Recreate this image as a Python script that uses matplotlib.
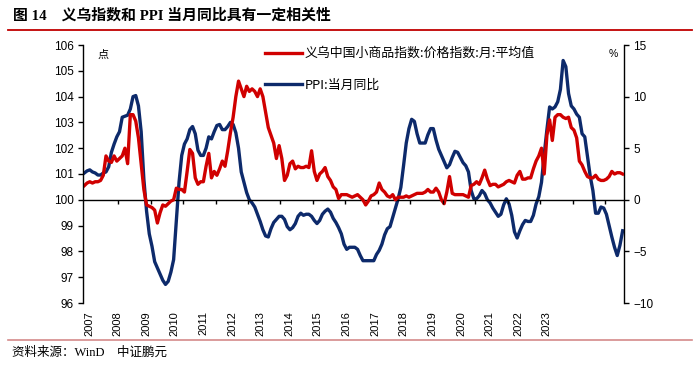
import numpy as np
import matplotlib.pyplot as plt
from matplotlib.lines import Line2D

plt.rcParams['font.family'] = ['Liberation Sans', 'Noto Sans CJK SC']

years = [str(y) for y in range(2007, 2024)]

# 义乌中国小商品指数:价格指数:月:平均值 (left axis), monthly 2007-01 .. 2023-08
yiwu = [
    100.55, 100.65, 100.7, 100.65, 100.7, 100.7, 100.75, 100.95, 101.7, 101.5, 101.45, 101.7,
    101.5, 101.6, 101.7, 102.0, 101.4, 103.3, 103.3, 103.05, 102.4, 101.4, 100.4, 99.8,
    99.75, 99.7, 99.6, 99.1, 99.5, 99.8, 99.75, 99.85, 99.95, 100.0, 100.45, 100.4,
    100.4, 100.3, 101.1, 101.95, 101.8, 100.85, 100.6, 100.7, 100.7, 101.3, 101.8, 100.85,
    101.1, 100.95, 101.2, 101.5, 101.3, 101.9, 102.6, 103.2, 104.0, 104.6, 104.3, 104.0,
    104.4, 104.2, 104.3, 104.2, 104.0, 104.3, 104.0, 103.4, 102.8, 102.5, 102.2, 101.6,
    102.1, 101.6, 100.75, 100.95, 101.4, 101.5, 101.2, 101.3, 101.25, 101.25, 101.3, 101.25,
    101.9, 101.1, 100.75, 101.0, 101.1, 101.25, 100.9, 100.75, 100.5, 100.4, 100.05, 100.2,
    100.2, 100.2, 100.15, 100.1, 100.15, 100.2, 100.1, 100.0, 99.8, 99.95, 100.15, 100.2,
    100.3, 100.65, 100.4, 100.3, 100.15, 100.1, 100.2, 100.0, 100.1, 100.1, 100.1, 100.15,
    100.1, 100.15, 100.2, 100.25, 100.25, 100.25, 100.3, 100.4, 100.3, 100.3, 100.45, 100.3,
    100.0, 99.85, 100.3, 100.9, 100.25, 100.2, 100.2, 100.2, 100.2, 100.15, 100.1, 100.55,
    100.6, 100.7, 100.6, 100.85, 101.15, 100.8, 100.55, 100.6, 100.6, 100.5, 100.55, 100.6,
    100.7, 100.75, 100.7, 100.65, 100.95, 101.1, 100.8, 100.8, 100.85, 100.85, 101.2, 101.5,
    101.7, 102.0, 101.0, 102.5, 103.1, 102.3, 103.2, 103.3, 103.3, 103.2, 103.15, 103.2,
    102.8, 102.7, 102.4, 101.5, 101.35, 101.1, 100.9, 100.85, 100.85, 100.95, 100.8, 100.75,
    100.75, 100.8, 100.9, 101.1, 101.0, 101.05, 101.05, 101.0,
]

# PPI:当月同比 (right axis, %)
ppi = [
    2.6, 2.8, 2.9, 2.7, 2.6, 2.4, 2.4, 2.6, 2.7, 3.2, 4.6, 5.4,
    6.1, 6.6, 8.0, 8.1, 8.2, 8.8, 10.0, 10.1, 9.1, 6.6, 2.0, -1.1,
    -3.3, -4.5, -6.0, -6.6, -7.2, -7.8, -8.2, -7.9, -7.0, -5.8, -2.1, 1.7,
    4.3, 5.4, 5.9, 6.8, 7.1, 6.4, 4.8, 4.3, 4.3, 5.0, 6.1, 5.9,
    6.6, 7.2, 7.3, 6.8, 6.8, 7.1, 7.5, 7.3, 6.5, 5.0, 2.7, 1.7,
    0.7, 0.0, -0.3, -0.7, -1.4, -2.1, -2.9, -3.5, -3.6, -2.8, -2.2, -1.9,
    -1.6, -1.6, -1.9, -2.6, -2.9, -2.7, -2.3, -1.6, -1.3, -1.5, -1.4, -1.4,
    -1.6, -2.0, -2.3, -2.0, -1.4, -1.1, -0.9, -1.2, -1.8, -2.2, -2.7, -3.3,
    -4.3, -4.8, -4.6, -4.6, -4.6, -4.8, -5.4, -5.9, -5.9, -5.9, -5.9, -5.9,
    -5.3, -4.9, -4.3, -3.4, -2.8, -2.6, -1.7, -0.8, 0.1, 1.2, 3.3, 5.5,
    6.9, 7.8, 7.6, 6.4, 5.5, 5.5, 5.5, 6.3, 6.9, 6.9, 5.8, 4.9,
    4.3, 3.7, 3.1, 3.4, 4.1, 4.7, 4.6, 4.1, 3.6, 3.3, 2.7, 0.9,
    0.1, 0.1, 0.4, 0.9, 0.6, 0.0, -0.3, -0.8, -1.2, -1.6, -1.4, -0.5,
    0.1, -0.4, -1.5, -3.1, -3.7, -3.0, -2.4, -2.0, -2.1, -2.1, -1.5, -0.4,
    0.3, 1.7, 4.4, 6.8, 9.0, 8.8, 9.0, 9.5, 10.7, 13.5, 12.9, 10.3,
    9.1, 8.8, 8.3, 8.0, 6.4, 6.1, 4.2, 2.3, 0.9, -1.3, -1.3, -0.7,
    -0.8, -1.4, -2.5, -3.6, -4.6, -5.4, -4.4, -3.0,
]

red = '#D00000'
navy = '#0D2A6B'

n = len(yiwu)
x = np.arange(n)

fig = plt.figure(figsize=(7, 3.66), dpi=100)
ax = fig.add_axes([83 / 700, 1 - 303 / 366, 541 / 700, 258 / 366])
ax2 = ax.twinx()
ax.set_zorder(ax2.get_zorder() + 1)
ax.patch.set_visible(False)

l2, = ax2.plot(x, ppi, color=navy, lw=2.4, label='PPI:当月同比')
l1, = ax.plot(x, yiwu, color=red, lw=2.4, label='义乌中国小商品指数:价格指数:月:平均值')

ax.set_xlim(-0.5, n - 0.5)
ax.set_ylim(96, 106)
ax.set_yticks(range(96, 107))
ax2.set_ylim(-10, 15)
ax2.set_yticks(range(-10, 16, 5))

for s in ['top', 'bottom', 'right']:
    ax.spines[s].set_visible(False)
for s in ['top', 'bottom', 'left']:
    ax2.spines[s].set_visible(False)
ax.spines['left'].set_linewidth(1.0)
ax2.spines['right'].set_linewidth(1.0)

ax.tick_params(axis='y', direction='out', length=3.5, width=1, labelsize=8.5, pad=3)
ax2.tick_params(axis='y', direction='out', length=3.5, width=1, labelsize=8.5, pad=3)

# zero line with year ticks
ax.axhline(100, color='black', lw=1.0, zorder=1)
ax.vlines(np.arange(12.5, n, 12), 100 - 0.15, 100, color='black', lw=1.0)

# year labels (placed as in the original, evenly across the axis)
label_pos = np.linspace(1.7, 171, len(years))
ax.set_xticks(label_pos, years, rotation=90, fontsize=8)
ax.tick_params(axis='x', length=0, pad=6)

ax.text(0.026, 0.962, '点', transform=ax.transAxes, fontsize=8, ha='left', va='center',
        family=['Noto Sans CJK SC'])
ax.text(0.98, 0.965, '%', transform=ax.transAxes, fontsize=7.5, ha='center', va='center')

ax.legend(handles=[l1, l2], loc='upper left', bbox_to_anchor=(0.336, 0.992), frameon=False,
          prop={'family': ['Noto Sans CJK SC'], 'size': 9.3}, handlelength=2.85,
          handletextpad=0.22, labelspacing=1.45, borderpad=0, borderaxespad=0)

fig.text(13 / 700, 1 - 15 / 366, '图 14    义乌指数和 PPI 当月同比具有一定相关性',
         fontsize=10.7, fontweight='bold', ha='left', va='center',
         family=['Liberation Serif', 'Noto Sans CJK SC'])
fig.add_artist(Line2D([8 / 700, 692 / 700], [1 - 30 / 366, 1 - 30 / 366], color='#C00000', lw=1.3))
fig.add_artist(Line2D([8 / 700, 692 / 700], [1 - 340 / 366, 1 - 340 / 366], color='#D48A8A', lw=1.2))
fig.text(12 / 700, 1 - 353 / 366, '资料来源：WinD    中证鹏元', fontsize=9, ha='left', va='center',
         family=['Liberation Serif', 'Noto Sans CJK SC'])

fig.savefig('out.png', dpi=100)
